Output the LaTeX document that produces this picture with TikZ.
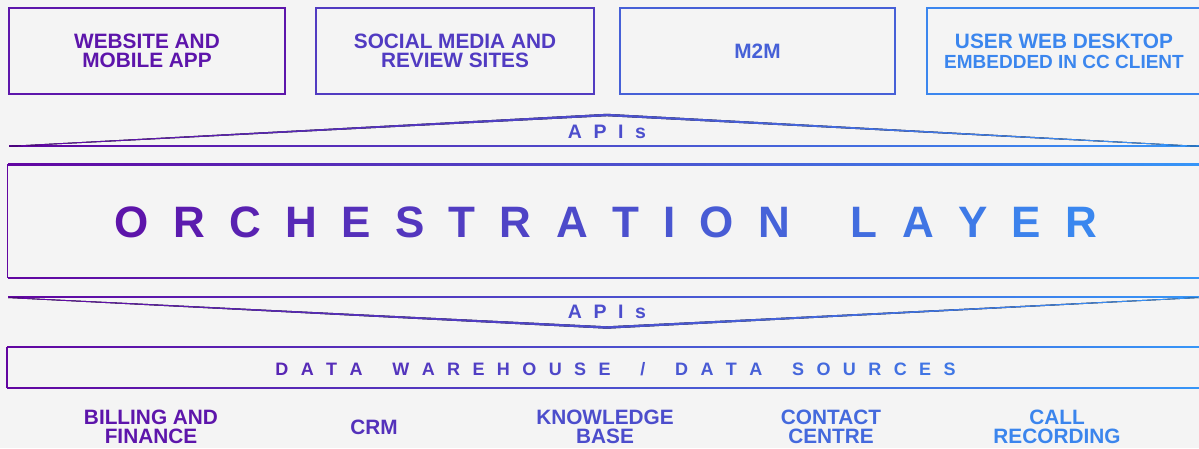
\documentclass[tikz,border=0pt]{standalone}
\usepackage{fontspec}
\setmainfont{Liberation Sans}
\definecolor{gp}{RGB}{98,4,160}
\definecolor{gb}{RGB}{54,150,248}
\definecolor{bg}{RGB}{244,244,244}
\newdimen\trk
% colour #1 := purple-to-blue ramp taken at horizontal position #2
\newcommand\rampcol[2]{\pgfmathsetmacro\rampval{min(100,max(0,#2/11.99))}\colorlet{#1}{gb!\rampval!gp}}
% one tracked letter, coloured #1 percent along the ramp
\newcommand\tl[2]{{\color{gb!#1!gp}#2}\kern\trk}
% tracked word space
\newcommand\tsp{\hskip\fontdimen2\font\kern\trk}
% horizontal ramp rule: x from #1 to #2, at height #3, thickness #4
\newcommand\rampline[4]{%
  \rampcol{rl}{#1}\rampcol{rr}{#2}%
  \fill[left color=rl,right color=rr] (#1,#3-#4/2) rectangle (#2,#3+#4/2);}
% tapered ramp chevron: ends (#1,#2) and (#5,#6), apex (#3,#4), apex thickness #7
\newcommand\rampwedge[7]{%
  \rampcol{rl}{#1}\rampcol{rr}{#5}%
  \fill[left color=rl,right color=rr] (#1,#2-0.4) -- (#3,#4-#7/2) -- (#5,#6-0.4)
     -- (#5,#6+0.4) -- (#3,#4+#7/2) -- (#1,#2+0.4) -- cycle;}
\tikzset{
  channel/.style={draw=#1, text=#1, line width=1.6pt, inner sep=0pt, align=center,
    minimum height=86pt, font=\fontsize{20.8}{19}\selectfont\bfseries},
  source/.style={text=#1, inner sep=0pt, align=center,
    font=\fontsize{20.8}{19}\selectfont\bfseries},
  band/.style={inner sep=0pt, minimum width=1198pt},
  bandside/.style={draw=gb!1!gp, line width=1.5pt},
  apis/.style={inner sep=0pt, font=\fontsize{19.5}{19.5}\selectfont\bfseries},
}
\begin{document}
\begin{tikzpicture}[x=1pt,y=-1pt]
\useasboundingbox (0,0) rectangle (1199,448);
\fill[bg] (0,0) rectangle (1199,448);

% channels on top
\node[channel=gb!12!gp, minimum width=276pt] (web)    at (147,51)   {WEBSITE AND\\MOBILE APP};
\node[channel=gb!38!gp, minimum width=278pt] (social) at (455,51)   {SOCIAL MEDIA AND\\REVIEW SITES};
\node[channel=gb!63!gp, minimum width=275pt] (mtm)    at (757.5,51) {M2M};
\node[channel=gb!89!gp, minimum width=274pt] (user)   at (1064,51)
  {USER WEB DESKTOP\\[1pt]{\fontsize{19}{19}\selectfont EMBEDDED IN CC CLIENT}};

% upper API chevron
\rampline{9}{1199}{145.7}{1.3}
\rampwedge{9}{146.3}{607}{115}{1199}{146.3}{2.4}
\node[apis] (apiup) at (607,132)
  {\trk=11.6pt\relax\tl{50}{A}\tl{50}{P}\tl{50}{I}\tl{51}{s}\kern-\trk};

% orchestration layer
\node[band, minimum height=113.5pt] (orch) at (606.5,221.4) {};
\rampline{8}{1205}{164.7}{1.5}
\rampline{8}{1205}{278}{1.5}
\path[bandside] (orch.north west) -- (orch.south west);
\node[inner sep=0pt, font=\fontsize{44}{44}\selectfont\bfseries] (orchtext) at (606,222.5)
  {\trk=24.3pt\relax
   \tl{11}{O}\tl{16}{R}\tl{20}{C}\tl{25}{H}\tl{30}{E}\tl{34}{S}\tl{39}{T}\tl{43}{R}\tl{48}{A}%
   \tl{52}{T}\tl{56}{I}\tl{60}{O}\tl{65}{N}\tsp\tl{72}{L}\tl{77}{A}\tl{81}{Y}\tl{86}{E}\tl{90}{R}\kern-\trk};

% lower API chevron
\rampline{8}{1199}{297}{1.3}
\rampwedge{8}{297.6}{607}{327.5}{1199}{297.6}{2.4}
\node[apis] (apidown) at (607,311.8)
  {\trk=11.6pt\relax\tl{50}{A}\tl{50}{P}\tl{50}{I}\tl{51}{s}\kern-\trk};

% data warehouse band
\node[band, minimum height=40.8pt] (dw) at (606,367.6) {};
\rampline{7}{1205}{347.2}{1.5}
\rampline{7}{1205}{388}{1.5}
\path[bandside] (dw.north west) -- (dw.south west);
\node[inner sep=0pt, font=\fontsize{18}{18}\selectfont\bfseries] (dwtext) at (615.5,369.4)
  {\trk=12.4pt\relax
   \tl{23}{D}\tl{26}{A}\tl{28}{T}\tl{30}{A}\tsp\tl{33}{W}\tl{36}{A}\tl{38}{R}\tl{40}{E}\tl{42}{H}%
   \tl{44}{O}\tl{46}{U}\tl{48}{S}\tl{50}{E}\tsp\tl{54}{/}\tsp\tl{57}{D}\tl{59}{A}\tl{61}{T}\tl{63}{A}%
   \tsp\tl{67}{S}\tl{69}{O}\tl{71}{U}\tl{73}{R}\tl{75}{C}\tl{77}{E}\tl{79}{S}\kern-\trk};

% data sources
\node[source=gb!12!gp] (billing) at (151,426.5) {BILLING AND\\FINANCE};
\node[source=gb!31!gp] (crm)     at (374,427)   {CRM};
\node[source=gb!50!gp] (kb)      at (605,426.5) {KNOWLEDGE\\BASE};
\node[source=gb!69!gp] (cc)      at (831,426.5) {CONTACT\\CENTRE};
\node[source=gb!88!gp] (rec)     at (1057,426.5) {CALL\\RECORDING};
\end{tikzpicture}
\end{document}
